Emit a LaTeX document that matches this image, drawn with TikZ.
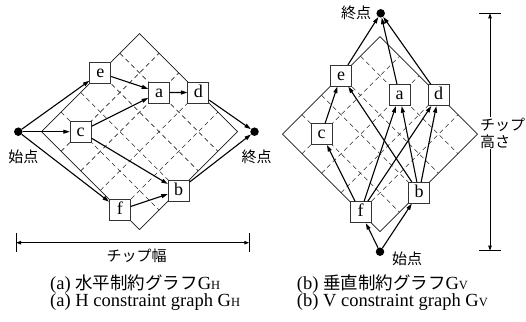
\documentclass[tikz,border=0pt]{standalone}
\usepackage{fontspec}
\setmainfont{Liberation Serif}
\newfontfamily\jp{Noto Sans CJK JP}
\usetikzlibrary{arrows.meta}
\newcommand\gsub[1]{{\fontsize{12.5}{12.5}\selectfont #1}}

\begin{document}
\begin{tikzpicture}[x=1pt,y=-1pt,
  gridline/.style={line width=0.6pt, black!85, dash pattern=on 4.5pt off 3.5pt},
  frame/.style={line width=0.7pt, black!90},
  mod/.style={draw=black!80, fill=white, line width=0.8pt, minimum size=21pt,
    inner sep=0pt, text height=9pt, text depth=0pt, font=\fontsize{18}{18}\selectfont},
  edge/.style={line width=1.1pt, -{Triangle[length=6.5pt,width=4pt]}},
  dot/.style={circle, fill=black, inner sep=0pt, minimum size=8.5pt},
  lbl/.style={font=\jp\fontsize{15}{16.5}\selectfont, inner sep=0pt},
  dim/.style={line width=0.9pt, {Triangle[length=5pt,width=3.4pt]}-{Triangle[length=5pt,width=3.4pt]}},
  tick/.style={line width=0.9pt},
  captext/.style={font=\fontsize{18.5}{18.5}\selectfont, inner sep=0pt,
    text height=12.5pt, text depth=3pt, anchor=base west},
]
\useasboundingbox (0,0) rectangle (526,321);

% ---------- horizontal constraint graph ----------
\begin{scope}[shift={(41.5pt,-131.7pt)}, x={(98pt,98pt)}, y={(98pt,-98pt)}]
  \draw[frame] (0,0) -- (1,0) -- (1,1) -- (0,1) -- cycle;
  \foreach \k in {0.2,0.4,0.6,0.8} {
    \draw[gridline] (\k,0) -- (\k,1);
    \draw[gridline] (0,\k) -- (1,\k);
  }
  \node[mod] (he) at (0.6,0)   {e};
  \node[mod] (ha) at (0.8,0.4) {a};
  \node[mod] (hd) at (1,0.6)   {d};
  \node[mod] (hc) at (0.2,0.2) {c};
  \node[mod] (hb) at (0.4,1)   {b};
  \node[mod] (hf) at (0,0.8)   {f};
\end{scope}
\node[dot] (hS) at (18.3,131.7) {};
\node[dot] (hE) at (254.5,131.7) {};
\node[lbl] at (23.3,157) {始点};
\node[lbl] at (256.7,157) {終点};

\draw[edge] (hS) -- (he);
\draw[edge] (hS) -- (hc);
\draw[edge] (hS) -- (hf);
\draw[edge] (he) -- (ha);
\draw[edge] (hc) -- (ha);
\draw[edge] (hc) -- (hb);
\draw[edge] (ha) -- (hd);
\draw[edge] (hf) -- (hb);
\draw[edge] (hd) -- (hE);
\draw[edge] (hb) -- (hE);

% chip width
\coordinate (wl) at (16,242.7);
\coordinate (wr) at (249.3,242.7);
\draw[dim] (wl) -- (wr);
\draw[tick] ([yshift=9.5pt]wl) -- ([yshift=-9.5pt]wl);
\draw[tick] ([yshift=9.5pt]wr) -- ([yshift=-9.5pt]wr);
\node[lbl] at (136.7,256) {チップ幅};

% ---------- vertical constraint graph ----------
\begin{scope}[shift={(282.5pt,-134.2pt)}, x={(97.5pt,97.5pt)}, y={(97.5pt,-97.5pt)}]
  \draw[frame] (0,0) -- (1,0) -- (1,1) -- (0,1) -- cycle;
  \foreach \k in {0.2,0.4,0.6,0.8} {
    \draw[gridline] (\k,0) -- (\k,1);
    \draw[gridline] (0,\k) -- (1,\k);
  }
  \node[mod] (ve) at (0.6,0)   {e};
  \node[mod] (va) at (0.8,0.4) {a};
  \node[mod] (vd) at (1,0.6)   {d};
  \node[mod] (vc) at (0.2,0.2) {c};
  \node[mod] (vb) at (0.4,1)   {b};
  \node[mod] (vf) at (0,0.8)   {f};
\end{scope}
\node[dot] (vS) at (380,251.7) {};
\node[dot] (vE) at (380.7,13.3) {};
\node[lbl] at (407,259) {始点};
\node[lbl] at (356,13.3) {終点};

\draw[edge] (vS) -- (vf);
\draw[edge] (vS) -- (vb);
\draw[edge] (vf) -- (vc);
\draw[edge] (vf) -- (va);
\draw[edge] (vf) -- (vd);
\draw[edge] (vc) -- (ve);
\draw[edge] (vb) -- (ve);
\draw[edge] (vb) -- (va);
\draw[edge] (vb) -- (vd);
\draw[edge] (ve) -- (vE);
\draw[edge] (va) -- (vE);
\draw[edge] (vd) -- (vE);

% chip height
\coordinate (ht) at (490,13.3);
\coordinate (hbm) at (490,250.7);
\draw[dim] (ht) -- (hbm);
\draw[tick] ([xshift=-11pt]ht) -- ([xshift=11pt]ht);
\draw[tick] ([xshift=-11pt]hbm) -- ([xshift=11pt]hbm);
\node[lbl, fill=white, anchor=west, align=left, inner ysep=1pt] at (480,133.3) {チップ\\高さ};

% ---------- captions ----------
\node[captext] at (50,289) {(a) {\jp\fontsize{17.5}{17.5}\selectfont 水平制約グラフ}G\gsub{H}};
\node[captext] at (50,306) {(a) H constraint graph G\gsub{H}};
\node[captext] at (296.7,289) {(b) {\jp\fontsize{17.5}{17.5}\selectfont 垂直制約グラフ}G\gsub{V}};
\node[captext] at (296.7,306) {(b) V constraint graph G\gsub{V}};
\end{tikzpicture}
\end{document}
